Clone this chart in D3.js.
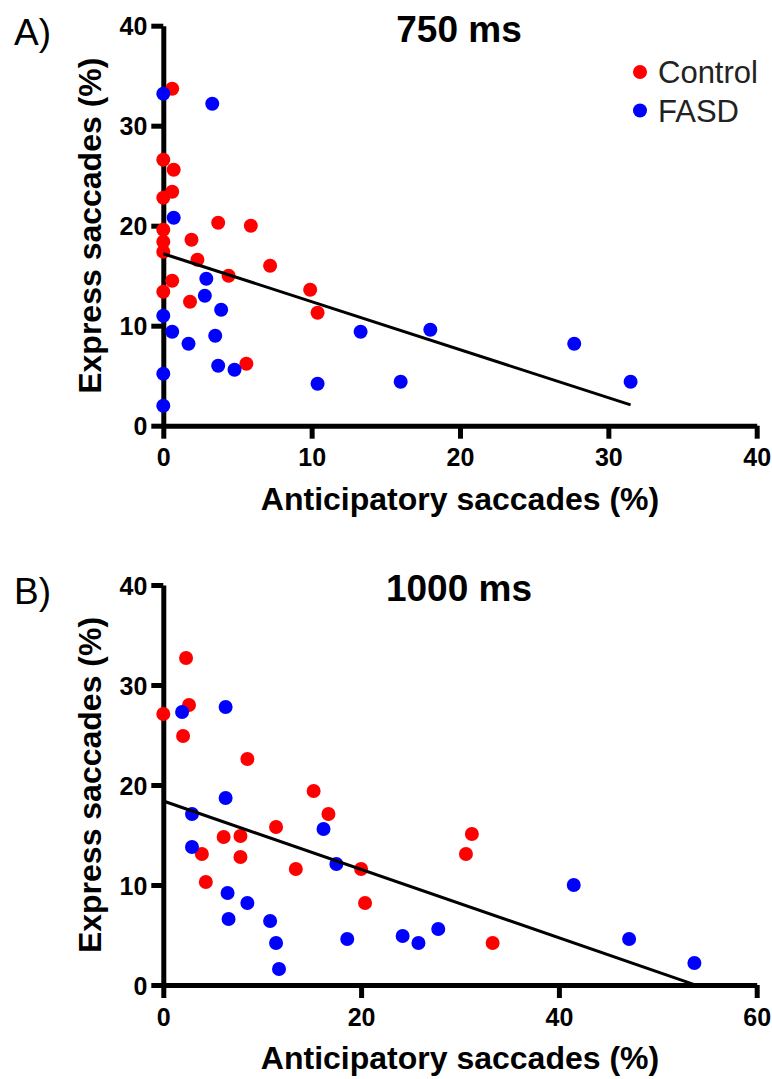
<!DOCTYPE html>
<html>
<head>
<meta charset="utf-8">
<script src="https://cdn.jsdelivr.net/npm/d3@7"></script>
<style>
  body { margin: 0; background: #fff; }
  svg { display: block; }
  .axis path, .axis line { stroke: #000; stroke-width: 5px; }
  .axis text { font-family: "Liberation Sans", Arial, sans-serif; font-weight: bold; font-size: 25px; fill: #000; }
</style>
</head>
<body>
<svg id="chart" width="772" height="1079"></svg>
<script>
// panel A: 750 ms  [anticipatory %, express %]
const controlA = [
  [0.6, 33.7], [0, 26.6], [0.7, 25.6], [0.6, 23.4], [0, 22.8], [3.7, 20.3],
  [5.9, 20.0], [0, 19.6], [1.9, 18.6], [0, 18.4], [0, 17.4], [2.3, 16.6],
  [7.2, 16.0], [4.4, 15.0], [0.6, 14.5], [0, 13.4], [1.8, 12.4], [5.6, 6.2],
  [9.9, 13.6], [10.4, 11.3]
];
const fasdA = [
  [0, 33.2], [3.3, 32.2], [0.7, 20.8], [2.9, 14.7], [2.8, 13.0], [3.9, 11.6],
  [0, 11.0], [0.6, 9.4], [3.5, 9.0], [1.7, 8.2], [3.7, 6.0], [4.8, 5.6],
  [0, 5.2], [0, 2.0], [13.3, 9.4], [18.0, 9.6], [27.7, 8.2], [10.4, 4.2],
  [16.0, 4.4], [31.5, 4.4]
];
// panel B: 1000 ms
const controlB = [
  [2.3, 32.7], [0, 27.1], [2.6, 28.0], [2.0, 24.9], [8.5, 22.6], [15.2, 19.4],
  [16.7, 17.1], [11.4, 15.8], [6.1, 14.8], [7.8, 14.9], [3.9, 13.1], [7.8, 12.8],
  [13.4, 11.6], [20.0, 11.6], [4.3, 10.3], [20.4, 8.2], [31.2, 15.1], [30.6, 13.1],
  [33.3, 4.2]
];
const fasdB = [
  [1.9, 27.3], [6.3, 27.8], [6.3, 18.7], [2.9, 17.1], [16.2, 15.6], [2.9, 13.8],
  [17.5, 12.1], [6.5, 9.2], [8.5, 8.2], [6.6, 6.6], [10.8, 6.4], [11.4, 4.2],
  [11.7, 1.6], [18.6, 4.6], [24.2, 4.9], [25.8, 4.2], [27.8, 5.6], [41.5, 10.0],
  [47.1, 4.6], [53.7, 2.2]
];

// regression lines: [intercept, slope, last x]
const fitA = [17.2, -0.48, 31.5];
const fitB = [18.4, -0.342, 53.7];

const xTicksA = [0, 10, 20, 30, 40];
const xTicksB = [0, 20, 40, 60];
const yTicks = [0, 10, 20, 30, 40];

const seriesNames = ["Control", "FASD"];
const colors = { Control: "#ff0000", FASD: "#0000ff" };

const svg = d3.select("#chart");
const font = '"Liberation Sans", Arial, sans-serif';

function drawPanel(opts) {
  const { top, bottom, left, right, xMax, xTicks, control, fasd, fit, title, letter, legend } = opts;

  const x = d3.scaleLinear().domain([0, xMax]).range([left, right]);
  const y = d3.scaleLinear().domain([0, 40]).range([bottom, top]);

  const g = svg.append("g");

  // axes
  const yAxis = d3.axisLeft(y).tickValues(yTicks).tickSizeInner(12).tickSizeOuter(0).tickPadding(4);
  const xAxis = d3.axisBottom(x).tickValues(xTicks).tickSizeInner(13).tickSizeOuter(0).tickPadding(10);

  g.append("g").attr("class", "axis")
    .attr("transform", `translate(${left},0)`)
    .call(yAxis)
    .call(a => a.selectAll("text").attr("dy", "0.36em"));

  g.append("g").attr("class", "axis")
    .attr("transform", `translate(0,${bottom})`)
    .call(xAxis);

  // axis titles
  g.append("text")
    .attr("x", (left + right) / 2)
    .attr("y", bottom + 84)
    .attr("text-anchor", "middle")
    .style("font-family", font).style("font-weight", "bold").style("font-size", "32px")
    .text("Anticipatory saccades (%)");

  g.append("text")
    .attr("transform", `translate(101,${(top + bottom) / 2}) rotate(-90)`)
    .attr("text-anchor", "middle")
    .style("font-family", font).style("font-weight", "bold").style("font-size", "32px")
    .text("Express saccades (%)");

  // title + panel letter
  g.append("text")
    .attr("x", 459).attr("y", top + 16)
    .attr("text-anchor", "middle")
    .style("font-family", font).style("font-weight", "bold").style("font-size", "37px")
    .text(title);

  g.append("text")
    .attr("x", 14).attr("y", top + 19)
    .style("font-family", font).style("font-size", "37px")
    .text(letter);

  // points, control first, FASD on top
  const groups = [["Control", control], ["FASD", fasd]];
  groups.forEach(([name, pts]) => {
    g.append("g")
      .attr("fill", colors[name])
      .selectAll("circle")
      .data(pts)
      .join("circle")
      .attr("cx", d => x(d[0]))
      .attr("cy", d => y(d[1]))
      .attr("r", 7);
  });

  // regression line
  const line = d3.line().x(d => x(d[0])).y(d => y(d[1]));
  g.append("path")
    .datum([[0, fit[0]], [fit[2], fit[0] + fit[1] * fit[2]]])
    .attr("d", line)
    .attr("fill", "none")
    .attr("stroke", "#000")
    .attr("stroke-width", 3);

  // legend
  if (legend) {
    const lg = g.append("g");
    seriesNames.forEach((name, i) => {
      lg.append("circle")
        .attr("cx", 640).attr("cy", 72 + i * 38.5)
        .attr("r", 7).attr("fill", colors[name]);
      lg.append("text")
        .attr("x", 658).attr("y", 83 + i * 38.5)
        .style("font-family", font).style("font-size", "31px").style("fill", "#222")
        .text(name);
    });
  }
}

drawPanel({
  top: 25.7, bottom: 425.7, left: 163.3, right: 756.7,
  xMax: 40, xTicks: xTicksA, control: controlA, fasd: fasdA, fit: fitA,
  title: "750 ms", letter: "A)", legend: true
});

drawPanel({
  top: 585, bottom: 985, left: 163.3, right: 756.7,
  xMax: 60, xTicks: xTicksB, control: controlB, fasd: fasdB, fit: fitB,
  title: "1000 ms", letter: "B)", legend: false
});
</script>
</body>
</html>
